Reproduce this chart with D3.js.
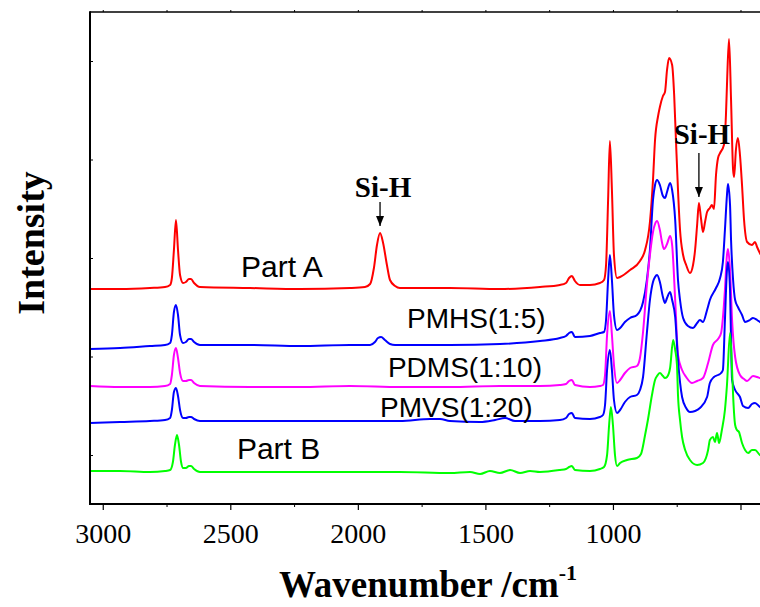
<!DOCTYPE html>
<html><head><meta charset="utf-8">
<script src="https://cdn.jsdelivr.net/npm/d3@7"></script>
<style>body{margin:0;background:#fff}svg{display:block}</style>
</head><body>
<script>
// ---- data: [wavenumber (cm-1), intensity (a.u.)] ----
const partA = [[3050,2.15],[2932,2.15],[2815,2.16],[2756,2.17],[2736,2.19],[2729,2.26],[2721,2.54],[2713,2.84],[2705,2.54],[2697,2.29],[2685,2.21],[2674,2.22],[2662,2.25],[2654,2.25],[2642,2.21],[2619,2.17],[2423,2.16],[2227,2.15],[2031,2.16],[1972,2.17],[1952,2.20],[1937,2.36],[1925,2.59],[1913,2.71],[1901,2.61],[1886,2.39],[1874,2.24],[1854,2.18],[1835,2.16],[1639,2.16],[1443,2.15],[1286,2.17],[1208,2.19],[1184,2.21],[1172,2.26],[1161,2.28],[1149,2.23],[1129,2.19],[1090,2.19],[1051,2.21],[1035,2.24],[1027,2.39],[1019,3.04],[1012,3.63],[1004,3.14],[996,2.49],[984,2.26],[972,2.27],[933,2.34],[894,2.43],[874,2.54],[855,2.82],[843,3.24],[835,3.64],[823,3.88],[816,3.97],[804,4.08],[796,4.12],[788,4.34],[780,4.46],[768,4.39],[760,4.09],[753,3.64],[745,3.14],[737,2.74],[725,2.49],[713,2.39],[698,2.31],[686,2.39],[678,2.54],[670,2.79],[663,3.01],[655,2.86],[647,2.72],[639,2.82],[631,2.92],[620,2.96],[612,2.99],[604,2.95],[596,3.29],[588,3.46],[580,3.51],[565,3.59],[557,3.89],[553,4.19],[545,4.65],[537,4.04],[529,3.34],[525,3.27],[518,3.54],[510,3.66],[502,3.49],[494,3.19],[486,2.84],[474,2.62],[455,2.59],[443,2.62],[435,2.57],[424,2.51],[400,2.42]];
const pmhs = [[3050,1.55],[2932,1.56],[2815,1.58],[2756,1.59],[2736,1.61],[2729,1.69],[2721,1.92],[2713,1.99],[2705,1.89],[2697,1.69],[2685,1.61],[2674,1.62],[2662,1.65],[2654,1.65],[2642,1.62],[2619,1.59],[2423,1.59],[2227,1.58],[2031,1.59],[1952,1.59],[1933,1.62],[1921,1.66],[1909,1.67],[1894,1.64],[1874,1.60],[1854,1.59],[1639,1.59],[1443,1.60],[1286,1.63],[1208,1.66],[1184,1.68],[1172,1.71],[1161,1.72],[1149,1.67],[1090,1.68],[1051,1.71],[1035,1.72],[1027,1.84],[1019,2.24],[1012,2.49],[1004,2.24],[996,1.89],[984,1.74],[972,1.76],[953,1.82],[933,1.86],[906,1.89],[882,2.02],[867,2.24],[855,2.54],[843,3.04],[835,3.19],[827,3.24],[816,3.19],[804,3.08],[796,3.06],[788,3.12],[776,3.21],[768,3.14],[756,2.84],[745,2.24],[737,2.04],[725,1.86],[706,1.78],[686,1.76],[670,1.81],[659,1.84],[647,1.82],[631,1.94],[620,2.04],[596,2.16],[580,2.26],[569,2.42],[561,2.74],[553,3.09],[549,3.20],[541,2.99],[537,2.64],[529,2.24],[521,2.04],[510,1.97],[494,1.89],[482,1.82],[463,1.84],[451,1.86],[435,1.84],[424,1.82],[400,1.79]];
const pdms = [[3050,1.18],[2932,1.17],[2815,1.17],[2756,1.18],[2736,1.20],[2729,1.29],[2721,1.49],[2713,1.56],[2705,1.46],[2697,1.31],[2685,1.23],[2674,1.23],[2662,1.24],[2654,1.24],[2642,1.21],[2619,1.18],[2423,1.17],[2227,1.17],[2031,1.18],[1835,1.17],[1639,1.17],[1443,1.18],[1286,1.18],[1208,1.19],[1184,1.20],[1172,1.23],[1161,1.24],[1149,1.19],[1090,1.17],[1051,1.18],[1039,1.19],[1031,1.29],[1023,1.69],[1012,1.93],[1004,1.69],[996,1.39],[984,1.21],[972,1.24],[953,1.31],[933,1.36],[906,1.38],[894,1.46],[882,1.72],[867,2.19],[855,2.49],[843,2.72],[835,2.80],[827,2.83],[816,2.74],[808,2.62],[800,2.55],[788,2.60],[776,2.68],[768,2.59],[756,2.04],[745,1.49],[729,1.34],[713,1.27],[690,1.21],[670,1.23],[647,1.26],[627,1.41],[608,1.59],[588,1.65],[576,1.71],[569,1.86],[561,2.14],[553,2.49],[549,2.55],[541,2.34],[533,1.84],[521,1.47],[502,1.29],[486,1.25],[474,1.23],[451,1.28],[435,1.27],[424,1.26],[400,1.24]];
const pmvs = [[3050,0.81],[2932,0.82],[2815,0.83],[2756,0.84],[2736,0.86],[2729,0.94],[2721,1.12],[2713,1.16],[2705,1.08],[2697,0.94],[2685,0.86],[2674,0.86],[2662,0.87],[2654,0.87],[2642,0.85],[2619,0.83],[2423,0.83],[2227,0.83],[2031,0.83],[1835,0.83],[1717,0.85],[1678,0.85],[1639,0.83],[1521,0.82],[1462,0.84],[1423,0.86],[1384,0.83],[1286,0.83],[1208,0.84],[1184,0.86],[1172,0.90],[1161,0.91],[1149,0.86],[1090,0.85],[1051,0.87],[1039,0.89],[1031,0.99],[1023,1.34],[1012,1.54],[1004,1.34],[996,1.04],[984,0.91],[972,0.94],[953,1.02],[933,1.07],[906,1.09],[894,1.14],[882,1.27],[867,1.71],[855,2.04],[843,2.22],[835,2.27],[827,2.29],[816,2.22],[804,2.07],[796,2.01],[788,2.06],[776,2.12],[768,2.04],[756,1.87],[745,1.44],[729,1.07],[713,0.96],[698,0.92],[678,0.93],[659,0.96],[631,1.07],[620,1.21],[604,1.27],[588,1.29],[576,1.31],[569,1.34],[561,1.84],[553,2.34],[549,2.42],[541,2.14],[537,1.64],[533,1.24],[521,1.14],[502,1.07],[490,0.98],[470,0.96],[455,1.00],[443,1.01],[424,0.97],[400,0.94]];
const partB = [[3050,0.33],[2932,0.33],[2815,0.32],[2756,0.33],[2736,0.34],[2725,0.42],[2717,0.59],[2709,0.69],[2701,0.59],[2693,0.42],[2685,0.36],[2674,0.36],[2662,0.38],[2654,0.38],[2642,0.35],[2619,0.32],[2423,0.32],[2227,0.32],[2031,0.32],[1835,0.32],[1639,0.31],[1560,0.32],[1521,0.30],[1482,0.33],[1443,0.31],[1403,0.34],[1364,0.31],[1325,0.33],[1286,0.32],[1208,0.34],[1184,0.35],[1172,0.37],[1161,0.38],[1149,0.34],[1090,0.33],[1051,0.35],[1035,0.37],[1023,0.49],[1015,0.79],[1008,0.97],[1000,0.79],[992,0.49],[984,0.38],[972,0.41],[945,0.44],[906,0.46],[890,0.50],[874,0.69],[863,0.84],[847,1.09],[835,1.24],[827,1.28],[816,1.31],[804,1.28],[796,1.26],[788,1.27],[776,1.36],[764,1.64],[756,1.54],[749,1.39],[745,1.09],[737,0.84],[729,0.67],[717,0.54],[698,0.44],[670,0.39],[647,0.41],[627,0.54],[620,0.64],[608,0.67],[600,0.62],[592,0.71],[584,0.61],[573,0.74],[561,0.94],[553,1.19],[541,1.71],[533,1.34],[529,1.09],[521,0.79],[514,0.74],[506,0.72],[494,0.61],[482,0.54],[470,0.51],[455,0.54],[443,0.54],[424,0.49],[400,0.46]];

const seriesNames  = ["Part A","PMHS(1:5)","PDMS(1:10)","PMVS(1:20)","Part B"];
const seriesColors = ["#ff0000","#0000ff","#ff00ff","#0000ff","#00ff00"];
const seriesData   = [partA, pmhs, pdms, pmvs, partB];
// label anchor: [wavenumber, intensity] of text start / baseline, and size
const labelPos = [[2458,2.27],[1807,1.76],[1882,1.27],[1913,0.87],[2474,0.45]];
const labelSize = [30,28,28,28,30];

const xMajorTicks = [3000,2500,2000,1500,1000,500];
const xTickLabels = ["3000","2500","2000","1500","1000",""];
const xMinorTicks = [2750,2250,1750,1250,750];
const yTicks = [0.49,1.475,2.46,3.445,4.43];
// Si-H annotations: wavenumber, text baseline, arrow start, arrow tip (intensity)
const annotations = [
  {text:"Si-H", w:1913, textI:3.07, fromI:3.02, toI:2.78, dx:3},
  {text:"Si-H", w:663,  textI:3.60, fromI:3.51, toI:3.07, dx:3}
];

// ---- layout ----
const W = 760, H = 607;
const M = {left:90, top:12, right:766, bottom:504};
const svg = d3.select("body").append("svg").attr("width",W).attr("height",H);

const x = d3.scaleLinear().domain([3050,400]).range([M.left, M.right]);
const y = d3.scaleLinear().domain([0,4.92]).range([M.bottom, M.top]);

svg.append("defs").append("clipPath").attr("id","clip")
  .append("rect").attr("x",M.left).attr("y",M.top).attr("width",M.right-M.left).attr("height",M.bottom-M.top);

const line = d3.line().x(d=>x(d[0])).y(d=>y(d[1])).curve(d3.curveMonotoneX);

const g = svg.append("g").attr("clip-path","url(#clip)");
seriesData.forEach((s,i)=>{
  g.append("path").datum(s).attr("d",line)
    .attr("fill","none").attr("stroke",seriesColors[i]).attr("stroke-width",2)
    .attr("stroke-linejoin","round");
});

// axes
const xAxis = d3.axisBottom(x).tickValues(xMajorTicks).tickSize(6).tickPadding(6)
  .tickFormat((d,i)=>xTickLabels[i]);
const gx = svg.append("g").attr("transform",`translate(0,${M.bottom})`).call(xAxis);
gx.select(".domain").remove();
gx.selectAll(".tick line").attr("stroke","#000").attr("stroke-width",1.2);
gx.selectAll(".tick text").attr("font-family","'Liberation Serif','Times New Roman',serif")
  .attr("font-size",28).attr("fill","#000").attr("dy","0.95em");
const gxm = svg.append("g").attr("transform",`translate(0,${M.bottom})`)
  .call(d3.axisBottom(x).tickValues(xMinorTicks).tickSize(3).tickFormat(""));
gxm.select(".domain").remove();
gxm.selectAll(".tick line").attr("stroke","#000").attr("stroke-width",1);

const gtop = svg.append("g").attr("transform",`translate(0,${M.top})`)
  .call(d3.axisTop(x).tickValues(xMajorTicks.concat(xMinorTicks)).tickSize(2).tickFormat(""));
gtop.select(".domain").remove();
gtop.selectAll(".tick line").attr("stroke","#000").attr("stroke-width",1);

const gy = svg.append("g").attr("transform",`translate(${M.left},0)`)
  .call(d3.axisRight(y).tickValues(yTicks).tickSize(3).tickFormat(""));
gy.select(".domain").remove();
gy.selectAll(".tick line").attr("stroke","#000").attr("stroke-width",1);

// frame lines
svg.append("line").attr("x1",M.left).attr("x2",W).attr("y1",M.top).attr("y2",M.top)
  .attr("stroke","#000").attr("stroke-width",1.5);
svg.append("line").attr("x1",M.left).attr("x2",W).attr("y1",M.bottom).attr("y2",M.bottom)
  .attr("stroke","#000").attr("stroke-width",2);
svg.append("line").attr("x1",M.left).attr("x2",M.left).attr("y1",M.top-0.75).attr("y2",M.bottom+1)
  .attr("stroke","#000").attr("stroke-width",2);

// series labels
svg.selectAll(".lbl").data(seriesNames).enter().append("text")
  .attr("x",(d,i)=>x(labelPos[i][0])).attr("y",(d,i)=>y(labelPos[i][1]))
  .attr("font-family","'Liberation Sans',Arial,sans-serif").attr("font-size",(d,i)=>labelSize[i])
  .attr("fill","#000").text(d=>d);

// annotations
svg.append("defs").append("marker").attr("id","arr").attr("viewBox","0 0 10 10")
  .attr("refX",10).attr("refY",5).attr("markerWidth",10).attr("markerHeight",10)
  .attr("markerUnits","userSpaceOnUse").attr("orient","auto")
  .append("path").attr("d","M0,1 L10,5 L0,9 Z").attr("fill","#000");
annotations.forEach(a=>{
  svg.append("text").attr("x",x(a.w)+a.dx).attr("y",y(a.textI)).attr("text-anchor","middle")
    .attr("font-family","'Liberation Serif','Times New Roman',serif").attr("font-weight","bold")
    .attr("font-size",29).text(a.text);
  svg.append("line").attr("x1",x(a.w)).attr("x2",x(a.w)).attr("y1",y(a.fromI)).attr("y2",y(a.toI))
    .attr("stroke","#000").attr("stroke-width",1.3).attr("marker-end","url(#arr)");
});

// axis titles
const xt = svg.append("text").attr("x",428).attr("y",597).attr("text-anchor","middle")
  .attr("font-family","'Liberation Serif','Times New Roman',serif").attr("font-weight","bold")
  .attr("font-size",37);
xt.append("tspan").text("Wavenumber /cm");
xt.append("tspan").attr("font-size",22).attr("dy",-17).text("-1");

svg.append("text").attr("transform","translate(44,243) rotate(-90)").attr("text-anchor","middle")
  .attr("font-family","'Liberation Serif','Times New Roman',serif").attr("font-weight","bold")
  .attr("font-size",38).text("Intensity");
</script>
</body></html>
